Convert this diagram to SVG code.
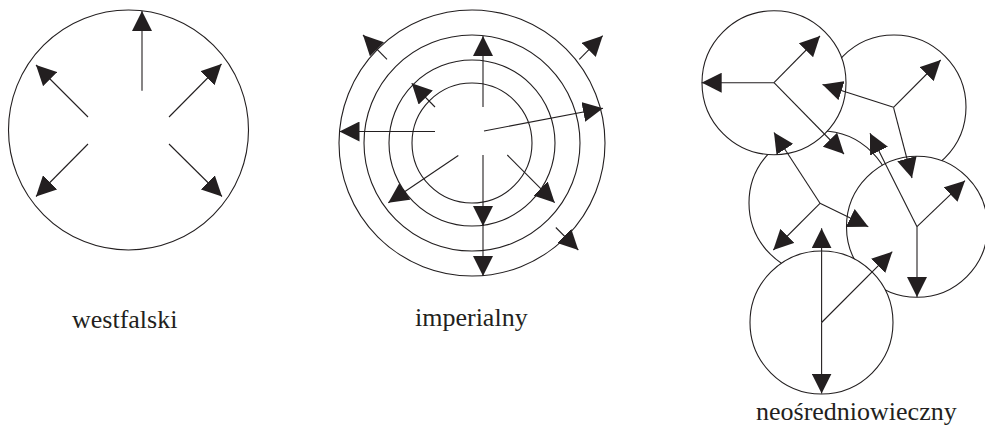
<svg xmlns="http://www.w3.org/2000/svg" width="985" height="426" viewBox="0 0 985 426">
<style>
.c{fill:#fff;stroke:#231f20;stroke-width:1.1}
.a{fill:none;stroke:#231f20;stroke-width:1.1;marker-end:url(#ah)}
.t{font-family:"Liberation Serif","Times New Roman",serif;font-size:26px;fill:#231f20}
</style>
<defs>
<marker id="ah" markerUnits="userSpaceOnUse" markerWidth="20" markerHeight="20" refX="20" refY="10" orient="auto" viewBox="0 0 20 20">
<path d="M0,0 L20,10 L0,20 Z" fill="#231f20"/>
</marker>
</defs>
<rect width="985" height="426" fill="#fff"/>
<g id="westfalski">
<circle class="c" cx="128.5" cy="130" r="120"/>
<text class="t" x="72" y="328">westfalski</text>
</g>
<g id="imperialny">
<circle class="c" cx="472" cy="143" r="133"/>
<circle class="c" cx="472" cy="143" r="108"/>
<circle class="c" cx="472" cy="143" r="83"/>
<circle class="c" cx="472" cy="143" r="60"/>
<text class="t" x="415" y="326">imperialny</text>
</g>
<g id="neo">
<circle id="nB" class="c" cx="894" cy="107" r="72"/>
<circle id="nC" class="c" cx="821" cy="203" r="72"/>
<circle id="nA" class="c" cx="774" cy="82.7" r="72"/>
<circle id="nD" class="c" cx="917" cy="226.7" r="70.5"/>
<circle id="nE" class="c" cx="821.5" cy="322.5" r="71.5"/>
<text class="t" x="756" y="420">neośredniowieczny</text>
</g>
<g id="connectors">
<line class="a" x1="142" y1="90.7" x2="142" y2="11"/>
<line class="a" x1="88" y1="117" x2="36" y2="65"/>
<line class="a" x1="169" y1="117" x2="221.5" y2="64"/>
<line class="a" x1="88" y1="144" x2="36" y2="196.5"/>
<line class="a" x1="169" y1="144" x2="222" y2="196.5"/>

<line class="a" x1="483" y1="107" x2="483" y2="36"/>
<line class="a" x1="483" y1="155" x2="483" y2="226"/>
<line class="a" x1="483" y1="220" x2="483" y2="276"/>
<line class="a" x1="435" y1="131.5" x2="339.5" y2="131.5"/>
<line class="a" x1="484" y1="131" x2="603" y2="108.3"/>
<line class="a" x1="435" y1="107" x2="411.7" y2="83.3"/>
<line class="a" x1="387" y1="59.3" x2="363" y2="35"/>
<line class="a" x1="579.3" y1="59.3" x2="602.7" y2="35.7"/>
<line class="a" x1="458.3" y1="155.5" x2="388.3" y2="202.7"/>
<line class="a" x1="507.3" y1="155" x2="554.7" y2="202.7"/>
<line class="a" x1="555.8" y1="227.5" x2="578.3" y2="250"/>

<line class="a" x1="774" y1="82.7" x2="701.7" y2="82.7"/>
<line class="a" x1="774" y1="82.7" x2="820" y2="36"/>
<line class="a" x1="774" y1="82.7" x2="844" y2="154"/>
<line class="a" x1="893.5" y1="107.3" x2="822.5" y2="84.5"/>
<line class="a" x1="893.5" y1="107.3" x2="940.7" y2="60"/>
<line class="a" x1="893.5" y1="107.3" x2="912" y2="178"/>
<line class="a" x1="820" y1="203.3" x2="774" y2="132.5"/>
<line class="a" x1="820" y1="203.3" x2="773.3" y2="250"/>
<line class="a" x1="820" y1="203.3" x2="868.3" y2="226.7"/>
<line class="a" x1="917" y1="226.7" x2="870" y2="133.3"/>
<line class="a" x1="917" y1="226.7" x2="965" y2="180.7"/>
<line class="a" x1="917" y1="226.7" x2="917" y2="297"/>
<line class="a" x1="821.6" y1="322.5" x2="821.6" y2="228.3"/>
<line class="a" x1="821.6" y1="322.5" x2="821.6" y2="393.5"/>
<line class="a" x1="821.6" y1="322.5" x2="892.3" y2="251.7"/>
</g>
</svg>
